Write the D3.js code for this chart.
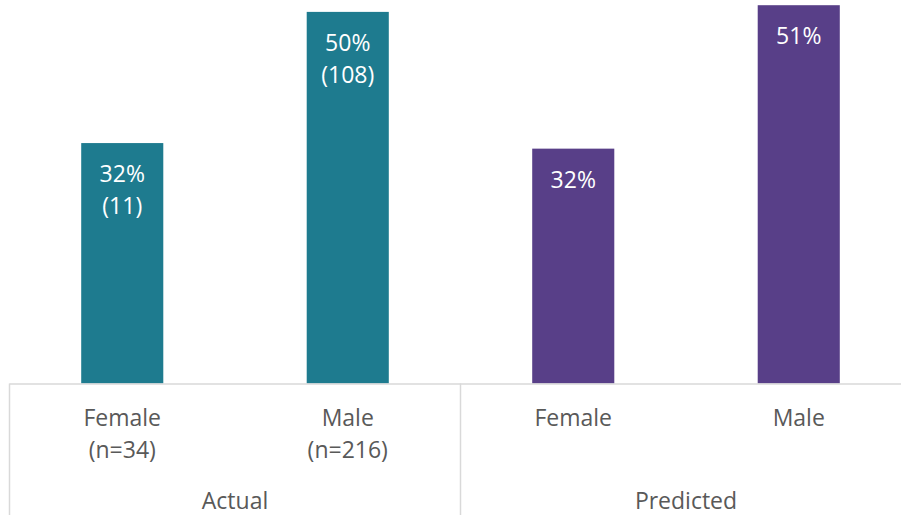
<!DOCTYPE html>
<html><head><meta charset="utf-8">
<script src="https://cdn.jsdelivr.net/npm/d3@7"></script>
<style>body{margin:0;background:#fff;}svg{display:block;}</style>
</head><body>
<script>
const groups = ["Actual", "Predicted"];
const categories = ["Female", "Male", "Female", "Male"];
const categorySubLabels = ["(n=34)", "(n=216)", "", ""];
const categoryGroup = ["Actual", "Actual", "Predicted", "Predicted"];
const values = [32.35, 50.0, 31.6, 50.9];
const valueLabels = ["32%", "50%", "32%", "51%"];
const countLabels = ["(11)", "(108)", "", ""];

const W = 901, H = 515;
const left = 9.5, bandW = 225.5;
const axisY = 383.5;
const colors = {Actual: "#1E7B8F", Predicted: "#583F88"};
const font = "'Open Sans', sans-serif";
const fs = 23;

const svg = d3.select("body").append("svg").attr("width", W).attr("height", H);

const x = d3.scaleBand().domain(d3.range(categories.length))
  .range([left, left + bandW * categories.length]).paddingInner(0.636).paddingOuter(0.318);
const y = d3.scaleLinear().domain([0, 51.6]).range([axisY, 0]);

svg.selectAll("rect.bar").data(values).join("rect")
  .attr("x", (d, i) => x(i)).attr("width", x.bandwidth())
  .attr("y", d => y(d)).attr("height", d => axisY - y(d))
  .attr("fill", (d, i) => colors[categoryGroup[i]]);

const lab = svg.selectAll("g.lab").data(values).join("g")
  .attr("transform", (d, i) => `translate(${x(i) + x.bandwidth() / 2},${y(d) + 39})`);
lab.append("text").attr("text-anchor", "middle").attr("fill", "#fff")
  .attr("font-family", font).attr("font-size", fs).text((d, i) => valueLabels[i]);
lab.append("text").attr("text-anchor", "middle").attr("fill", "#fff").attr("y", 32)
  .attr("font-family", font).attr("font-size", fs).text((d, i) => countLabels[i]);

// axis lines
const grid = "#D9D9D9";
const right = left + bandW * categories.length;
svg.append("line").attr("x1", left).attr("x2", right).attr("y1", axisY + 0.5).attr("y2", axisY + 0.5)
  .attr("stroke", grid).attr("stroke-width", 1.5);
[left, left + bandW * 2, right].forEach(xx => {
  svg.append("line").attr("x1", xx).attr("x2", xx).attr("y1", axisY).attr("y2", H)
    .attr("stroke", grid).attr("stroke-width", 1.5);
});

// category labels
categories.forEach((c, i) => {
  const cx = x(i) + x.bandwidth() / 2;
  svg.append("text").attr("x", cx).attr("y", 426).attr("text-anchor", "middle")
    .attr("fill", "#595959").attr("font-family", font).attr("font-size", fs).text(c);
  if (categorySubLabels[i]) svg.append("text").attr("x", cx).attr("y", 458).attr("text-anchor", "middle")
    .attr("fill", "#595959").attr("font-family", font).attr("font-size", fs).text(categorySubLabels[i]);
});
groups.forEach((g, gi) => {
  svg.append("text").attr("x", left + bandW * (2 * gi + 1)).attr("y", 509).attr("text-anchor", "middle")
    .attr("fill", "#595959").attr("font-family", font).attr("font-size", fs).text(g);
});
</script>
</body></html>
